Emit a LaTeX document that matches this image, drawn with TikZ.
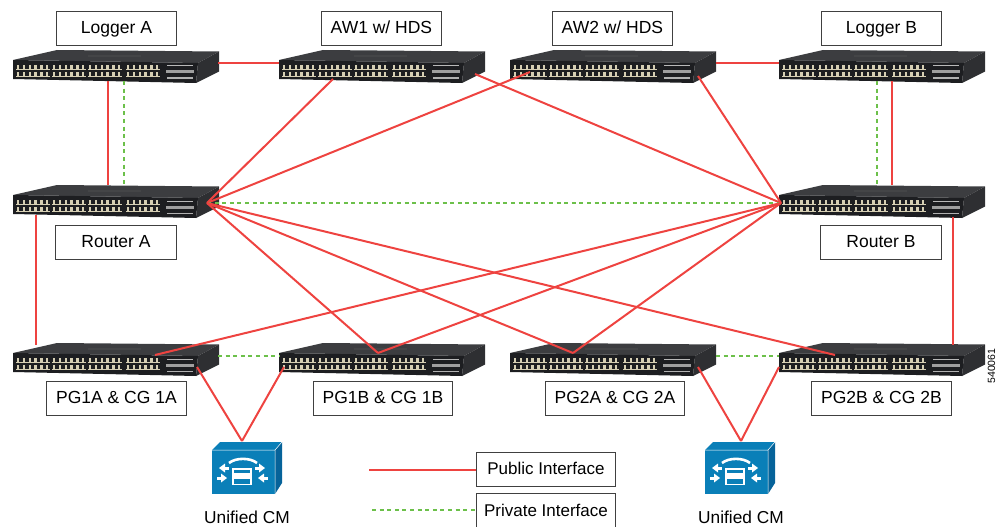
\documentclass[tikz,border=0pt]{standalone}
\usepackage{fontspec}
\setmainfont{Liberation Sans}
\definecolor{pub}{HTML}{EE4340}
\definecolor{priv}{HTML}{6CC04A}
\definecolor{cmblue}{HTML}{0A7FB8}
\definecolor{cmdark}{HTML}{06639A}
\definecolor{swfront}{HTML}{1D1E21}
\definecolor{swtop}{HTML}{3C3D40}
\definecolor{swside}{HTML}{2E2F32}
\definecolor{porttan}{HTML}{D6CFB4}
\newcommand{\swunit}[3]{% name, x, y
  \begin{scope}[shift={(#2,#3)}]
    \fill[swtop] (0,10) -- (44,0) -- (206,1.5) -- (185,13) -- cycle;
    \fill[swside] (185,13) -- (206,1.5) -- (206,21.5) -- (183,33) -- cycle;
    \fill[swfront] (0,10) -- (185,13) -- (183,33) -- (0,29) -- cycle;
    \foreach \gx in {3,39,75,113}{
      \foreach \c in {0,...,5}{
        \fill[porttan] ({\gx+1+\c*5.8},15) rectangle ++(2.4,4);
        \fill[porttan] ({\gx+1+\c*5.8},22) rectangle ++(2.4,4);
      }
      \fill[porttan] (\gx,18.6) rectangle ++(34,1.5);
      \fill[porttan] (\gx,25.6) rectangle ++(34,1.5);
    }
    \fill[gray!75] (153,20.5) rectangle (181,23.5);
    \fill[gray!60] (154,27.5) rectangle (180,28.6);
    \fill[gray!55] (154,15.5) rectangle (180,16.5);
    \fill[swfront!60!gray] (75,5.4) rectangle (128,7.4);
    \node[minimum size=0pt,inner sep=0pt] (#1) at (103,17) {};
  \end{scope}
}
\newcommand{\cmbox}[3]{% name, x, y of back top-left
  \begin{scope}[shift={(#2,#3)}]
    \fill[cmblue] (0,8) -- (8,0) -- (70,0) -- (63,8) -- cycle;
    \fill[cmdark] (63,8) -- (70,0) -- (70,41) -- (63,52) -- cycle;
    \fill[cmblue] (0,8) rectangle (63,52);
    \draw[white,line width=.5pt] (0,8) -- (63,8) -- (70,0) (63,8) -- (63,52);
    \draw[white,line width=2.6pt] (17,21) .. controls (24,15.5) and (38,15.5) .. (45,21);
    \fill[white] (20,26) rectangle (40,43);
    \fill[cmblue] (22,28) rectangle (38,30.5);
    \fill[cmblue] (22,37) rectangle (38,41.5);
    \fill[white] (7,26) -- (13,21.5) -- (13,30.5) -- cycle;
    \fill[white] (13,24.5) rectangle (17,27.5);
    \fill[white] (53,26) -- (47,21.5) -- (47,30.5) -- cycle;
    \fill[white] (43,24.5) rectangle (47,27.5);
    \fill[white] (15,36) -- (9,31.5) -- (9,40.5) -- cycle;
    \fill[white] (5,34.5) rectangle (9,37.5);
    \fill[white] (46,36) -- (52,31.5) -- (52,40.5) -- cycle;
    \fill[white] (52,34.5) rectangle (56,37.5);
    \node[minimum size=0pt,inner sep=0pt] (#1) at (30,30) {};
  \end{scope}
}
\tikzset{
  publine/.style={pub,line width=2pt},
  privline/.style={priv,line width=2pt,dash pattern=on 4pt off 3.6pt},
  lbl/.style={draw=black!75,fill=white,line width=.9pt,minimum height=34pt,inner sep=0pt,font=\fontsize{17.5}{20}\selectfont,text height=13pt,text depth=3.5pt,anchor=north west},
  txt/.style={font=\fontsize{17.3}{20}\selectfont,inner sep=0pt}
}
\begin{document}
\begin{tikzpicture}[x=1pt,y=-1pt]
\useasboundingbox (0,0) rectangle (997,527);
\begin{scope}
\clip (0,0) rectangle (997,527);
\swunit{sLogA}{13}{50}
\swunit{sAWa}{279}{50}
\swunit{sAWb}{510}{50}
\swunit{sLogB}{779}{50}
\swunit{sRouA}{13}{185}
\swunit{sRouB}{779}{185}
\swunit{sPGa}{13}{343}
\swunit{sPGb}{279}{343}
\swunit{sPGc}{510}{343}
\swunit{sPGd}{779}{343}
\cmbox{cmA}{212}{442}
\cmbox{cmB}{705}{442}

\coordinate (hubA) at (207,203);
\coordinate (hubB) at (781,203);
\coordinate (la1) at (218,63);  \coordinate (aw1l) at (279,63);
\coordinate (aw2r) at (716,63); \coordinate (lb1) at (779,63);
\coordinate (lar) at (108,81);  \coordinate (rar) at (108,185);
\coordinate (lag) at (124,81);  \coordinate (rag) at (124,185);
\coordinate (lbg) at (877,81);  \coordinate (rbg) at (877,185);
\coordinate (lbr) at (892,81);  \coordinate (rbr) at (892,185);
\coordinate (aw1b) at (333,79); \coordinate (aw1c) at (475,74);
\coordinate (aw2b) at (530,72); \coordinate (aw2c) at (698,76);
\coordinate (raL) at (36,215);  \coordinate (pg1t) at (36,345);
\coordinate (rbR) at (953,217); \coordinate (pg4t) at (953,345);
\coordinate (pg1h) at (155,355);\coordinate (pg2h) at (378,353);
\coordinate (pg3h) at (573,353);\coordinate (pg4h) at (835,355);
\coordinate (g1l) at (218,356); \coordinate (g1r) at (279,356);
\coordinate (g2l) at (716,356); \coordinate (g2r) at (779,356);
\coordinate (p1c) at (197,367); \coordinate (p2c) at (284,367);
\coordinate (p3c) at (698,367); \coordinate (p4c) at (779,367);
\coordinate (cmAt) at (242,441);\coordinate (cmBt) at (741,441);
\coordinate (legP) at (369,470);\coordinate (legG) at (372,510);

\draw[publine] (la1) -- (aw1l);
\draw[publine] (aw2r) -- (lb1);
\draw[publine] (lar) -- (rar);
\draw[privline] (lag) -- (rag);
\draw[privline] (lbg) -- (rbg);
\draw[publine] (lbr) -- (rbr);
\draw[publine] (aw1b) -- (hubA);
\draw[publine] (aw2b) -- (hubA);
\draw[publine] (aw1c) -- (hubB);
\draw[publine] (aw2c) -- (hubB);
\draw[privline] (hubA) -- (hubB);
\draw[publine] (raL) -- (pg1t);
\draw[publine] (rbR) -- (pg4t);
\draw[publine] (hubA) -- (pg2h);
\draw[publine] (hubA) -- (pg3h);
\draw[publine] (hubA) -- (pg4h);
\draw[publine] (hubB) -- (pg1h);
\draw[publine] (hubB) -- (pg2h);
\draw[publine] (hubB) -- (pg3h);
\draw[privline] (g1l) -- (g1r);
\draw[privline] (g2l) -- (g2r);
\draw[publine] (p1c) -- (cmAt);
\draw[publine] (p2c) -- (cmAt);
\draw[publine] (p3c) -- (cmBt);
\draw[publine] (p4c) -- (cmBt);

\node[lbl,minimum width=120pt] (tLogA) at (56,11) {Logger A};
\node[lbl,minimum width=120pt] (tAWa) at (321,11) {AW1 w/ HDS};
\node[lbl,minimum width=120pt] (tAWb) at (552,11) {AW2 w/ HDS};
\node[lbl,minimum width=120pt] (tLogB) at (821,11) {Logger B};
\node[lbl,minimum width=121pt] (tRouA) at (55,225) {Router A};
\node[lbl,minimum width=121pt] (tRouB) at (820,225) {Router B};
\node[lbl,minimum width=140pt] (tPGa) at (46,381) {PG1A \& CG 1A};
\node[lbl,minimum width=139pt] (tPGb) at (313,381) {PG1B \& CG 1B};
\node[lbl,minimum width=139pt] (tPGc) at (545,381) {PG2A \& CG 2A};
\node[lbl,minimum width=140pt] (tPGd) at (811,381) {PG2B \& CG 2B};
\node[lbl,minimum width=139pt,minimum height=34pt,font=\fontsize{17}{20}\selectfont] (tPub) at (476,452) {Public Interface};
\node[lbl,minimum width=139pt,minimum height=36pt,font=\fontsize{17}{20}\selectfont] (tPriv) at (476,493) {Private Interface};
\draw[publine] (legP) -- (tPub.west |- legP);
\draw[privline] (legG) -- (tPriv.west |- legG);
\node[txt] (tCmA) at (247,517) {Unified CM};
\node[txt] (tCmB) at (741,517) {Unified CM};
\node[font=\fontsize{10.5}{12}\selectfont,rotate=90,inner sep=0pt,anchor=base] (tId) at (995,366) {540061};
\end{scope}
\end{tikzpicture}
\end{document}
